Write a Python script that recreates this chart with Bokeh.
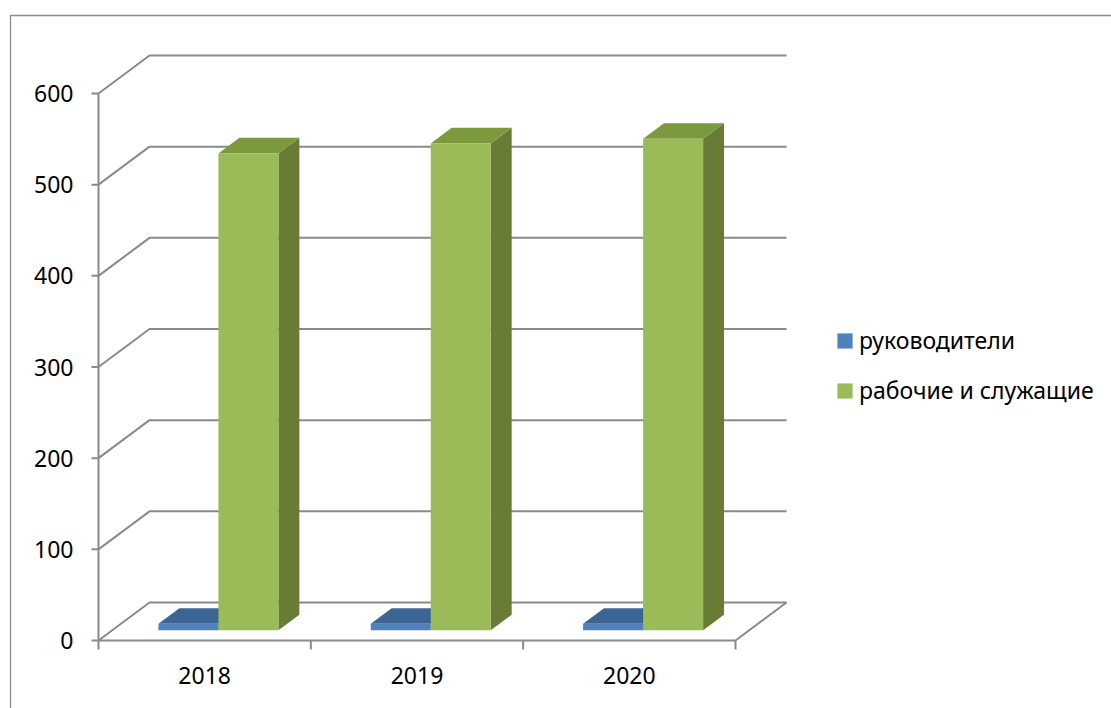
import numpy as np
from bokeh.plotting import figure
from bokeh.models import Range1d, ColumnDataSource, Legend, LegendItem
from bokeh.core.properties import value
from bokeh.embed import file_html
from bokeh.resources import INLINE

# ---- data ----
years = ["2018", "2019", "2020"]
managers = [7, 7, 7]
workers = [523, 534, 539]
y_ticks = [0, 100, 200, 300, 400, 500, 600]
series_names = ["руководители", "рабочие и служащие"]

# ---- geometry / style ----
W, H = 1111, 708
X0, CAT, Y0, VP = 98, 212.33, 640, 547 / 600
FONT = "Noto Sans"
FSIZE = "23px"
GRID = "#8a8a8a"

def sx(px):
    return (px - X0) / CAT

def sy(py):
    return (Y0 - py) / VP

p = figure(width=W, height=H,
           x_range=Range1d(sx(0), sx(W)), y_range=Range1d(sy(H), sy(0)),
           output_backend="svg", toolbar_location=None, min_border=0,
           x_axis_location=None, y_axis_location=None)
p.grid.visible = False
p.outline_line_color = None
p.background_fill_color = "white"
p.border_fill_color = "white"

n = len(years)
DX = 51 / CAT
DY = 38 / VP

# outer chart border
p.line([sx(10), sx(10), sx(W + 5)], [sy(H + 5), sy(15), sy(15)],
       line_color="#8c8c8c", line_width=1.3)

# back wall grid lines and left-wall slants
gx, gy = [], []
for v in y_ticks:
    gx.append([0, DX, n + DX]); gy.append([v, v + DY, v + DY])
p.multi_line(gx, gy, line_color=GRID, line_width=2)
# floor
p.multi_line([[0, n, n + DX]], [[0, 0, DY]], line_color=GRID, line_width=2)
# value axis line
p.line([0, 0], [0, max(y_ticks)], line_color=GRID, line_width=2)
# y ticks
tl = 7 / CAT
p.segment(x0=[-tl] * len(y_ticks), y0=y_ticks, x1=[0] * len(y_ticks), y1=y_ticks,
          line_color=GRID, line_width=2)
# x ticks
xt = list(range(n + 1))
p.segment(x0=xt, y0=[0] * len(xt), x1=xt, y1=[-9 / VP] * len(xt),
          line_color=GRID, line_width=2)

# tick labels
p.text(x=[-25 / CAT] * len(y_ticks), y=y_ticks, text=[str(t) for t in y_ticks],
       text_align="right", text_baseline="middle", text_font=value(FONT),
       text_font_size=FSIZE, text_color="#000000")
p.text(x=[i + 0.5 for i in range(n)], y=[-35 / VP] * n, text=years,
       text_align="center", text_baseline="middle", text_font=value(FONT),
       text_font_size=FSIZE, text_color="#000000")

# bars (pseudo-3D)
BW = 60 / CAT
F0, F1 = 0.27, 0.68
ax, ay = F0 * DX, F0 * DY
bx, by = F1 * DX, F1 * DY

colors = [
    dict(front="#4F81BD", top="#3C6593", side="#385D8A"),
    dict(front="#9BBB59", top="#7B9A3E", side="#687C36"),
]
fronts = []
for s, vals in enumerate([managers, workers]):
    x0 = [i + 0.5 + (s - 1) * BW for i in range(n)]
    x1 = [a + BW for a in x0]
    side_xs = [[r + ax, r + bx, r + bx, r + ax] for r in x1]
    side_ys = [[ay, by, v + by, v + ay] for v in vals]
    top_xs = [[l + ax, r + ax, r + bx, l + bx] for l, r in zip(x0, x1)]
    top_ys = [[v + ay, v + ay, v + by, v + by] for v in vals]
    p.patches(side_xs, side_ys, fill_color=colors[s]["side"], line_color=None)
    p.patches(top_xs, top_ys, fill_color=colors[s]["top"], line_color=None)
    src = ColumnDataSource(dict(left=[a + ax for a in x0], right=[a + ax for a in x1],
                                bottom=[ay] * n, top=[v + ay for v in vals]))
    r = p.quad(left="left", right="right", bottom="bottom", top="top", source=src,
               fill_color=colors[s]["front"], line_color=None)
    fronts.append(r)

legend = Legend(items=[LegendItem(label=series_names[i], renderers=[fronts[i]]) for i in range(2)],
                location=(835, 302), orientation="vertical",
                glyph_width=19, glyph_height=19, label_standoff=5, spacing=18,
                padding=0, margin=0, border_line_color=None, background_fill_alpha=0,
                label_text_font=FONT, label_text_font_size=FSIZE, label_text_color="#000000")
p.add_layout(legend)

open("out.html", "w").write(file_html(p, INLINE))
